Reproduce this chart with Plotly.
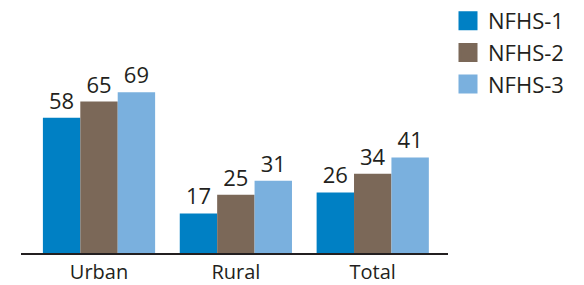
import plotly.graph_objects as go

categories = ["Urban", "Rural", "Total"]
series_names = ["NFHS-1", "NFHS-2", "NFHS-3"]
nfhs1 = [58, 17, 26]
nfhs2 = [65, 25, 34]
nfhs3 = [69, 31, 41]
values = [nfhs1, nfhs2, nfhs3]
colors = ["#0080C4", "#7B6858", "#7AB0DE"]

FONT = "Open Sans"
# the page body has an 8px margin, so the figure is drawn 8px in and down
W, H = 576, 277
fig = go.Figure()
for name, vals, col in zip(series_names, values, colors):
    fig.add_trace(go.Bar(
        x=categories, y=vals, name=name, marker=dict(color=col, line=dict(width=0)),
        text=[str(v) for v in vals], textposition="outside",
        textfont=dict(family=FONT, size=22, color="#231F20"),
        cliponaxis=False, showlegend=False,
    ))
for i, (name, col) in enumerate(zip(series_names, colors)):
    fig.add_trace(go.Scatter(
        x=[None], y=[None], mode="markers", name=name, legendgroup=f"g{i}",
        marker=dict(symbol="square", size=16, color=col, line=dict(color=col, width=3)),
    ))

fig.update_layout(
    width=W, height=H,
    margin=dict(l=13, r=136, t=2, b=32, autoexpand=False),
    paper_bgcolor="white", plot_bgcolor="white",
    barmode="group", bargap=0.18, bargroupgap=0,
    showlegend=True,
    legend=dict(x=1.0, xanchor="left", y=1.041, yanchor="top",
                font=dict(family=FONT, size=22, color="#231F20"),
                traceorder="grouped", tracegroupgap=0,
                bgcolor="rgba(0,0,0,0)", borderwidth=0),
    xaxis=dict(range=[-0.57, 2.55], showgrid=False, zeroline=False,
               showline=True, linecolor="#231F20", linewidth=2,
               ticks="", tickfont=dict(family=FONT, size=20, color="#231F20")),
    yaxis=dict(range=[0, 104.3], visible=False),
)
fig.write_html("out.html")
